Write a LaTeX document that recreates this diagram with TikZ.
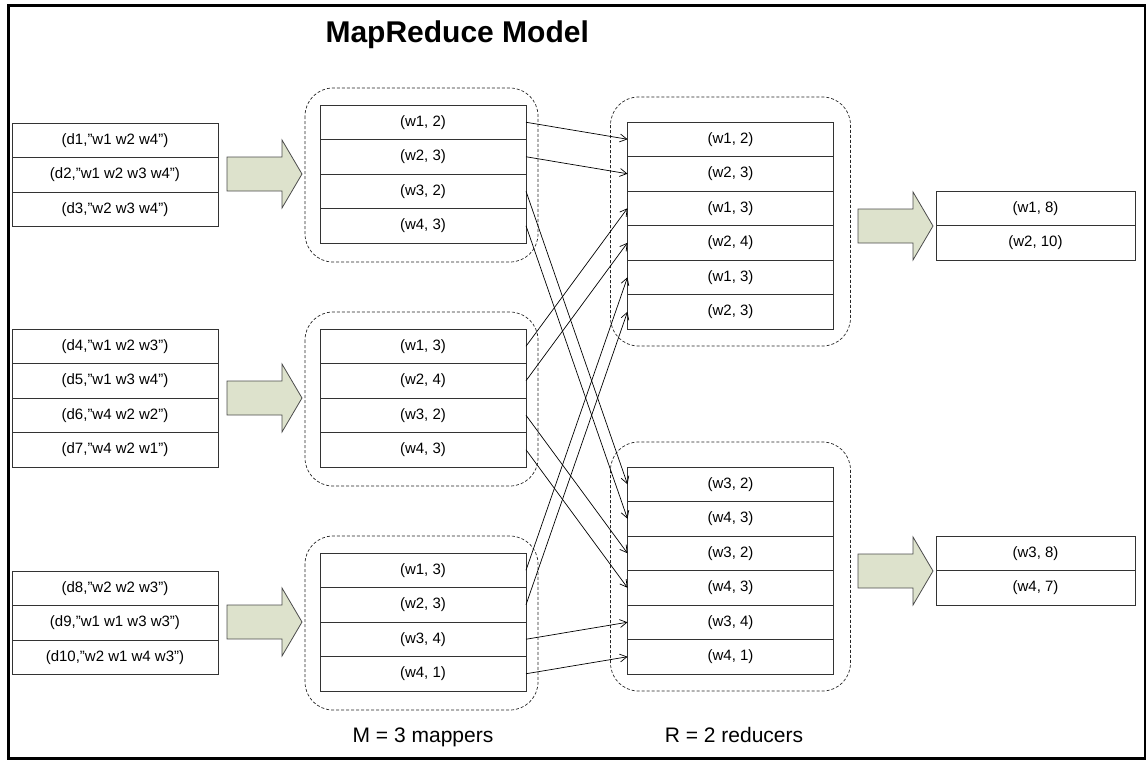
\documentclass[tikz,border=0pt]{standalone}
\usepackage{fontspec}
\setmainfont{Liberation Sans}
\usetikzlibrary{positioning,calc,arrows.meta}
\definecolor{arrowfill}{RGB}{221,226,204}
\tikzset{
  row/.style={draw=black!80, line width=0.9pt, minimum width=206pt, minimum height=34.5pt,
    inner sep=0pt, outer sep=0pt, font=\fontsize{15}{17}\selectfont},
  outrow/.style={row, minimum width=199pt},
  group/.style={draw=black!85, line width=0.7pt, dash pattern=on 3pt off 2pt, rounded corners=28pt},
  link/.style={-{Straight Barb[length=7pt,width=8pt]}, line width=0.7pt},
  bigarrow/.pic={\draw[fill=arrowfill, draw=black!70, line width=0.8pt]
    (0,-17) -- ++(55,0) -- ++(0,-17) -- ++(20,34) -- ++(-20,34) -- ++(0,-17) -- ++(-55,0) -- cycle;}
}
\begin{document}
\begin{tikzpicture}[x=1pt,y=-1pt]
        \useasboundingbox (0,0) rectangle (1146,760);
        \draw[line width=3pt] (8,6) rectangle (1145,758);
        \node[anchor=base west, font=\fontsize{30}{34}\selectfont\bfseries] (title) at (322,43) {MapReduce Model};

        % input splits
        \node[row] (d1) at (115,140.25) {(d1,”w1 w2 w4”)};
        \node[row, below=0pt of d1] (d2) {(d2,”w1 w2 w3 w4”)};
        \node[row, below=0pt of d2] (d3) {(d3,”w2 w3 w4”)};
        \node[row] (d4) at (115,346.25) {(d4,”w1 w2 w3”)};
        \node[row, below=0pt of d4] (d5) {(d5,”w1 w3 w4”)};
        \node[row, below=0pt of d5] (d6) {(d6,”w4 w2 w2”)};
        \node[row, below=0pt of d6] (d7) {(d7,”w4 w2 w1”)};
        \node[row] (d8) at (115,588.25) {(d8,”w2 w2 w3”)};
        \node[row, below=0pt of d8] (d9) {(d9,”w1 w1 w3 w3”)};
        \node[row, below=0pt of d9] (d10) {(d10,”w2 w1 w4 w3”)};

        \pic at (227,174) {bigarrow};
        \pic at (227,398) {bigarrow};
        \pic at (227,622) {bigarrow};

        % mappers
        \node[row] (m11) at (423,122.25) {(w1, 2)};
        \node[row, below=0pt of m11] (m12) {(w2, 3)};
        \node[row, below=0pt of m12] (m13) {(w3, 2)};
        \node[row, below=0pt of m13] (m14) {(w4, 3)};
        \node[row] (m21) at (423,346.25) {(w1, 3)};
        \node[row, below=0pt of m21] (m22) {(w2, 4)};
        \node[row, below=0pt of m22] (m23) {(w3, 2)};
        \node[row, below=0pt of m23] (m24) {(w4, 3)};
        \node[row] (m31) at (423,570.25) {(w1, 3)};
        \node[row, below=0pt of m31] (m32) {(w2, 3)};
        \node[row, below=0pt of m32] (m33) {(w3, 4)};
        \node[row, below=0pt of m33] (m34) {(w4, 1)};
        \draw[group] ($(m11.north west)+(-15,-17)$) rectangle ($(m14.south east)+(12,19)$);
        \draw[group] ($(m21.north west)+(-15,-17)$) rectangle ($(m24.south east)+(12,19)$);
        \draw[group] ($(m31.north west)+(-15,-17)$) rectangle ($(m34.south east)+(12,19)$);

        % reducers
        \node[row] (r11) at (730.5,139.25) {(w1, 2)};
        \node[row, below=0pt of r11] (r12) {(w2, 3)};
        \node[row, below=0pt of r12] (r13) {(w1, 3)};
        \node[row, below=0pt of r13] (r14) {(w2, 4)};
        \node[row, below=0pt of r14] (r15) {(w1, 3)};
        \node[row, below=0pt of r15] (r16) {(w2, 3)};
        \node[row] (r21) at (730.5,484.25) {(w3, 2)};
        \node[row, below=0pt of r21] (r22) {(w4, 3)};
        \node[row, below=0pt of r22] (r23) {(w3, 2)};
        \node[row, below=0pt of r23] (r24) {(w4, 3)};
        \node[row, below=0pt of r24] (r25) {(w3, 4)};
        \node[row, below=0pt of r25] (r26) {(w4, 1)};
        \draw[group] ($(r11.north west)+(-17,-25)$) rectangle ($(r16.south east)+(17,17)$);
        \draw[group] ($(r21.north west)+(-17,-25)$) rectangle ($(r26.south east)+(17,17)$);

        % shuffle
        \draw[link] (m11.east) -- (r11.west);
        \draw[link] (m12.east) -- (r12.west);
        \draw[link] (m13.east) -- (r21.west);
        \draw[link] (m14.east) -- (r22.west);
        \draw[link] (m21.east) -- (r13.west);
        \draw[link] (m22.east) -- (r14.west);
        \draw[link] (m23.east) -- (r23.west);
        \draw[link] (m24.east) -- (r24.west);
        \draw[link] (m31.east) -- (r15.west);
        \draw[link] (m32.east) -- (r16.west);
        \draw[link] (m33.east) -- (r25.west);
        \draw[link] (m34.east) -- (r26.west);

        % outputs
        \pic at (858,226) {bigarrow};
        \pic at (858,571) {bigarrow};
        \node[outrow] (o11) at (1035.5,208.25) {(w1, 8)};
        \node[outrow, below=0pt of o11] (o12) {(w2, 10)};
        \node[outrow] (o21) at (1035.5,553.25) {(w3, 8)};
        \node[outrow, below=0pt of o21] (o22) {(w4, 7)};

        \node[anchor=base, font=\fontsize{21}{24}\selectfont] (mlabel) at (423,742) {M = 3 mappers};
        \node[anchor=base, font=\fontsize{21}{24}\selectfont] (rlabel) at (734,742) {R = 2 reducers};
    \end{tikzpicture}
\end{document}
